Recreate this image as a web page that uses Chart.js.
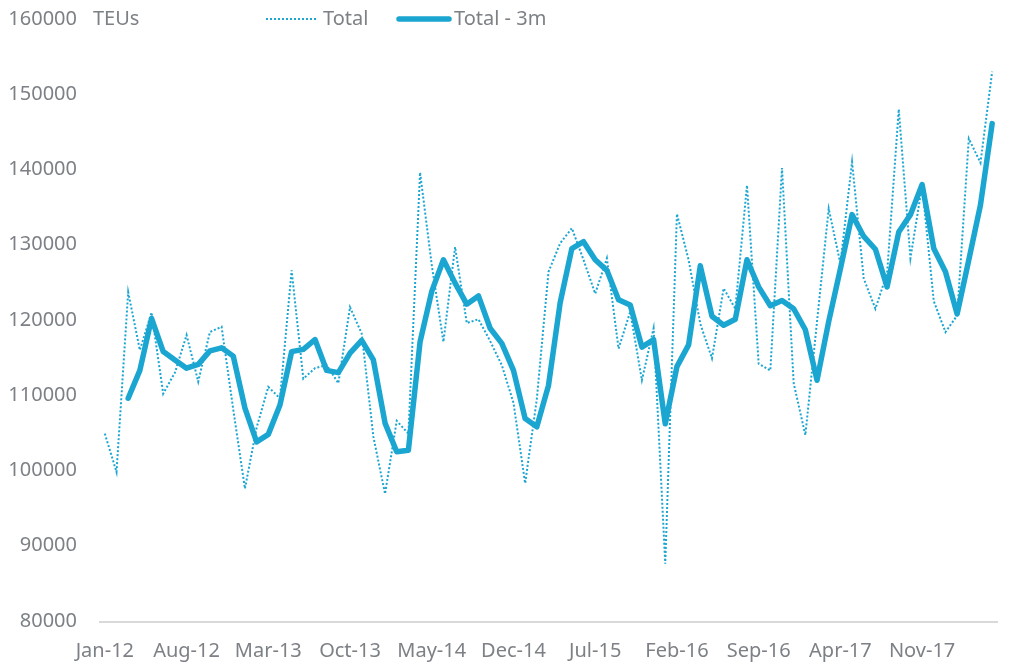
<!DOCTYPE html>
<html>
<head>
<meta charset="utf-8">
<script src="https://cdn.jsdelivr.net/npm/chart.js@4/dist/chart.umd.min.js"></script>
<style>
  html, body { margin: 0; padding: 0; background: #fff; }
  .wrap { width: 1013px; height: 671px; }
</style>
</head>
<body>
<div class="wrap"><canvas id="chart" width="1013" height="671"></canvas></div>
<script>
const categories = [
    'Jan-12','Feb-12','Mar-12','Apr-12','May-12','Jun-12','Jul-12','Aug-12','Sep-12','Oct-12','Nov-12','Dec-12',
    'Jan-13','Feb-13','Mar-13','Apr-13','May-13','Jun-13','Jul-13','Aug-13','Sep-13','Oct-13','Nov-13','Dec-13',
    'Jan-14','Feb-14','Mar-14','Apr-14','May-14','Jun-14','Jul-14','Aug-14','Sep-14','Oct-14','Nov-14','Dec-14',
    'Jan-15','Feb-15','Mar-15','Apr-15','May-15','Jun-15','Jul-15','Aug-15','Sep-15','Oct-15','Nov-15','Dec-15',
    'Jan-16','Feb-16','Mar-16','Apr-16','May-16','Jun-16','Jul-16','Aug-16','Sep-16','Oct-16','Nov-16','Dec-16',
    'Jan-17','Feb-17','Mar-17','Apr-17','May-17','Jun-17','Jul-17','Aug-17','Sep-17','Oct-17','Nov-17','Dec-17',
    'Jan-18','Feb-18','Mar-18','Apr-18','May-18'
];

// monthly TEUs
const total = [
    104900, 99800, 123700, 116000, 121000, 110200, 113000, 118000, 111800, 118400, 119100, 108100,
    97600, 105700, 111100, 109600, 126600, 112200, 113600, 114000, 111600, 121700, 118200, 104500,
    96900, 106600, 104900, 139600, 127300, 117100, 129700, 119600, 120100, 117200, 114000, 109000,
    98300, 109500, 126400, 130200, 132200, 128000, 123500, 128200, 116200, 121100, 112000, 118900,
    87600, 134100, 128000, 119500, 114900, 124200, 121500, 137900, 114200, 113300, 140200, 111600,
    104700, 119800, 134800, 127500, 141000, 125500, 121500, 126200, 148000, 128200, 137900, 122500,
    118400, 120600, 144100, 140900, 153000
];

// 3 month average, starts at Mar-12
const total3m = [
    null, null, 109600, 113300, 120200, 115800, 114700, 113600, 114100, 115900, 116300, 115200,
    108300, 103800, 104800, 108700, 115800, 116100, 117400, 113300, 113000, 115600, 117300, 114700,
    106300, 102500, 102700, 117100, 123800, 128000, 124900, 122100, 123200, 118900, 116900, 113300,
    106900, 105800, 111300, 122300, 129500, 130400, 128000, 126600, 122700, 122000, 116400, 117400,
    106200, 113800, 116700, 127200, 120500, 119300, 120100, 128000, 124400, 121900, 122600, 121500,
    118700, 112000, 119800, 126800, 134000, 131100, 129400, 124400, 131700, 134000, 138000, 129500,
    126400, 120800, 128000, 135300, 146100
];

const yTicks = [80000, 90000, 100000, 110000, 120000, 130000, 140000, 150000, 160000];
const labelEvery = 7;
const unitLabel = 'TEUs';

const blue = '#1ba6d1';
const textGray = '#7d8186';
const axisGray = '#d9d9d9';
const font = { family: '"Noto Sans", sans-serif', size: 20 };

// x axis line, unit text and legend drawn over the plot area like in excel
const extras = {
    id: 'extras',
    beforeDatasetsDraw(chart) {
        const ctx = chart.ctx;
        const x = chart.scales.x;
        ctx.save();
        ctx.strokeStyle = axisGray;
        ctx.lineWidth = 2;
        ctx.beginPath();
        ctx.moveTo(x.left, x.top + 1);
        ctx.lineTo(x.right, x.top + 1);
        ctx.stroke();
        ctx.restore();
    },
    afterDraw(chart) {
        const ctx = chart.ctx;
        const y = chart.scales.y.getPixelForValue(yTicks[yTicks.length - 1]);
        const starts = [266, 396];
        ctx.save();
        ctx.font = `${font.size}px ${font.family}`;
        ctx.fillStyle = textGray;
        ctx.textBaseline = 'middle';
        ctx.fillText(unitLabel, 93, y);

        chart.data.datasets.forEach((ds, i) => {
            const x = starts[i];
            const dotted = !!ds.borderDash;
            ctx.beginPath();
            ctx.strokeStyle = ds.borderColor;
            ctx.lineWidth = ds.borderWidth;
            ctx.setLineDash(ds.borderDash || []);
            ctx.lineCap = ds.borderCapStyle || 'butt';
            ctx.moveTo(dotted ? x : x + 3, y);
            ctx.lineTo(dotted ? x + 51 : x + 53, y);
            ctx.stroke();
            ctx.setLineDash([]);
            ctx.fillText(ds.label, x + (dotted ? 57 : 58), y);
        });
        ctx.restore();
    }
};

new Chart(document.getElementById('chart'), {
    type: 'line',
    data: {
        labels: categories,
        datasets: [{
            label: 'Total',
            data: total,
            borderColor: blue,
            borderWidth: 2,
            borderDash: [2, 2],
            pointRadius: 0,
            tension: 0,
            order: 1
        }, {
            label: 'Total - 3m',
            data: total3m,
            borderColor: blue,
            borderWidth: 5.5,
            borderCapStyle: 'round',
            borderJoinStyle: 'round',
            pointRadius: 0,
            tension: 0,
            order: 0
        }]
    },
    options: {
        responsive: false,
        animation: false,
        layout: { padding: { top: 19, right: 15, bottom: 0, left: 0 } },
        plugins: {
            legend: { display: false },
            tooltip: { enabled: false }
        },
        scales: {
            x: {
                offset: true,
                grid: { display: false, drawTicks: false },
                border: { display: false },
                afterFit: scale => { scale.height = 50; },
                ticks: {
                    autoSkip: false,
                    maxRotation: 0,
                    color: textGray,
                    font: font,
                    padding: 18,
                    callback: function (val, i) {
                        return i % labelEvery === 0 ? this.getLabelForValue(val) : '';
                    }
                }
            },
            y: {
                min: yTicks[0],
                max: yTicks[yTicks.length - 1],
                grid: { display: false, drawTicks: false },
                border: { display: false },
                afterFit: scale => {
                    scale.width = 99;
                    scale.paddingTop = 0;
                    scale.paddingBottom = 0;
                },
                afterBuildTicks: scale => { scale.ticks = yTicks.map(v => ({ value: v })); },
                ticks: {
                    color: textGray,
                    font: font,
                    padding: 22,
                    callback: v => String(v)
                }
            }
        }
    },
    plugins: [extras]
});
</script>
</body>
</html>
